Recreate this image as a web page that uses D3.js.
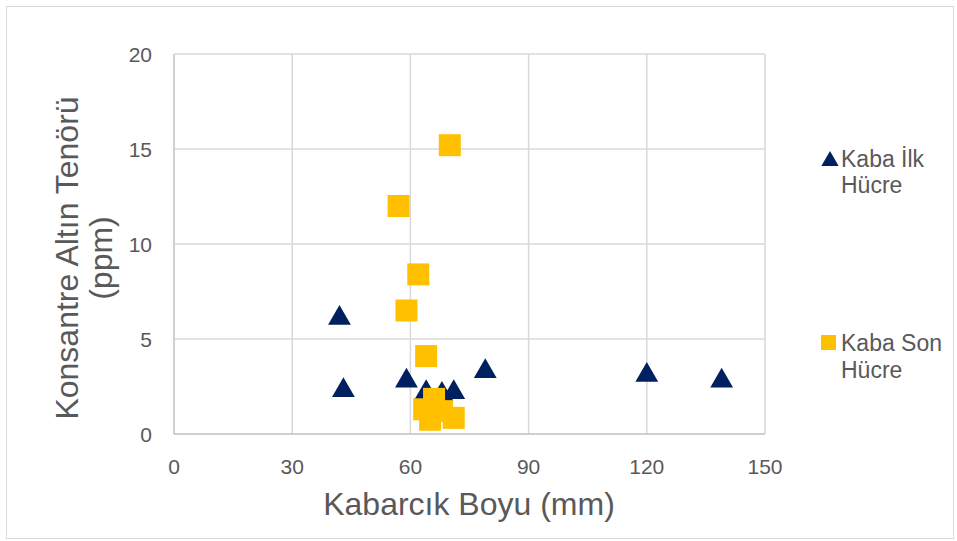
<!DOCTYPE html>
<html>
<head>
<meta charset="utf-8">
<script src="https://cdn.jsdelivr.net/npm/d3@7"></script>
<style>
  body { margin: 0; background: #fff; }
  text { font-family: "Liberation Sans", Arial, sans-serif; fill: #595959; }
</style>
</head>
<body>
<div id="chart"></div>
<script>
// series: Kaba İlk Hücre (triangles)
var ilkX = [42, 43, 59, 64, 68, 71, 79, 120, 139];
var ilkY = [6.2, 2.4, 2.9, 2.3, 2.2, 2.3, 3.4, 3.2, 2.9];
// series: Kaba Son Hücre (squares)
var sonX = [70, 57, 62, 59, 64, 63.5, 66, 65, 68, 71];
var sonY = [15.2, 12.0, 8.4, 6.5, 4.1, 1.3, 1.85, 0.75, 1.2, 0.85];

var xTicks = [0, 30, 60, 90, 120, 150];
var yTicks = [0, 5, 10, 15, 20];

var width = 957, height = 541;
var margin = {left: 174, top: 54, right: 192, bottom: 107};

var svg = d3.select("#chart").append("svg")
  .attr("width", width)
  .attr("height", height);

// outer chart border
svg.append("rect")
  .attr("x", 6.5).attr("y", 6.5)
  .attr("width", width - 10).attr("height", height - 9)
  .attr("fill", "none").attr("stroke", "#d9d9d9");

var x = d3.scaleLinear().domain([0, 150]).range([margin.left, width - margin.right]);
var y = d3.scaleLinear().domain([0, 20]).range([height - margin.bottom, margin.top]);

// grid
svg.append("g").selectAll("line")
  .data(xTicks)
  .enter().append("line")
  .attr("x1", function(d) { return x(d); })
  .attr("x2", function(d) { return x(d); })
  .attr("y1", y(0)).attr("y2", y(20))
  .attr("stroke", function(d) { return d === 0 ? "#bfbfbf" : "#d9d9d9"; })
  .attr("stroke-width", 1.5);

svg.append("g").selectAll("line")
  .data(yTicks)
  .enter().append("line")
  .attr("x1", x(0)).attr("x2", x(150))
  .attr("y1", function(d) { return y(d); })
  .attr("y2", function(d) { return y(d); })
  .attr("stroke", function(d) { return d === 0 ? "#bfbfbf" : "#d9d9d9"; })
  .attr("stroke-width", 1.5);

// tick labels
svg.append("g").selectAll("text")
  .data(xTicks)
  .enter().append("text")
  .attr("x", function(d) { return x(d); })
  .attr("y", y(0) + 40)
  .attr("text-anchor", "middle")
  .style("font-size", "21px")
  .text(function(d) { return d; });

svg.append("g").selectAll("text")
  .data(yTicks)
  .enter().append("text")
  .attr("x", x(0) - 22)
  .attr("y", function(d) { return y(d) + 8; })
  .attr("text-anchor", "end")
  .style("font-size", "21px")
  .text(function(d) { return d; });

// axis titles
svg.append("text")
  .attr("x", 469).attr("y", 515)
  .attr("text-anchor", "middle")
  .style("font-size", "32px")
  .text("Kabarcık Boyu (mm)");

var yt = svg.append("text")
  .attr("transform", "translate(78,258) rotate(-90)")
  .attr("text-anchor", "middle")
  .style("font-size", "32px");
yt.append("tspan").attr("x", 0).attr("dy", 0).text("Konsantre Altın Tenörü");
yt.append("tspan").attr("x", 0).attr("dy", 34).text("(ppm)");

var triangle = d3.symbol().type(d3.symbolTriangle).size(225);

// series 1 triangles
svg.append("g").selectAll("path")
  .data(d3.zip(ilkX, ilkY))
  .enter().append("path")
  .attr("d", triangle)
  .attr("transform", function(d) { return "translate(" + x(d[0]) + "," + (y(d[1]) + 2) + ")"; })
  .attr("fill", "#002060");

// series 2 squares
var s = 22;
svg.append("g").selectAll("rect")
  .data(d3.zip(sonX, sonY))
  .enter().append("rect")
  .attr("x", function(d) { return x(d[0]) - s / 2; })
  .attr("y", function(d) { return y(d[1]) - s / 2; })
  .attr("width", s).attr("height", s)
  .attr("fill", "#FFC000");

// legend
var leg = svg.append("g");
leg.append("path")
  .attr("d", d3.symbol().type(d3.symbolTriangle).size(130))
  .attr("transform", "translate(830,161)")
  .attr("fill", "#002060");
var t1 = leg.append("text").attr("y", 167).style("font-size", "23px");
t1.append("tspan").attr("x", 841).text("Kaba İlk");
t1.append("tspan").attr("x", 841).attr("dy", 26).text("Hücre");

leg.append("rect")
  .attr("x", 821).attr("y", 335).attr("width", 15).attr("height", 15)
  .attr("fill", "#FFC000");
var t2 = leg.append("text").attr("y", 351).style("font-size", "23px");
t2.append("tspan").attr("x", 841).text("Kaba Son");
t2.append("tspan").attr("x", 841).attr("dy", 27).text("Hücre");
</script>
</body>
</html>
